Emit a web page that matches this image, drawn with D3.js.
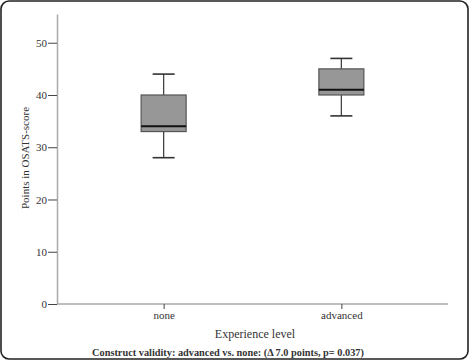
<!DOCTYPE html>
<html lang="en">
<head>
<meta charset="utf-8">
<title>OSATS score by experience level</title>
<script src="https://cdn.jsdelivr.net/npm/d3@7"></script>
<style>
  body { margin: 0; background: #fff; }
  text { font-family: "Liberation Serif", "Times New Roman", serif; fill: #333; }
</style>
</head>
<body>
<script>
// values
const categories = ["none", "advanced"];
const whiskLow  = [28, 36];
const q1        = [33, 40];
const median    = [34, 41];
const q3        = [40, 45];
const whiskHigh = [44, 47];
const yTicks = [0, 10, 20, 30, 40, 50];

const w = 469, h = 360;
const plotLeft = 57, plotRight = 448, plotTop = 14, plotBottom = 304;
const serif = "Liberation Serif, Times New Roman, serif";

const svg = d3.select("body").append("svg")
  .attr("width", w)
  .attr("height", h);

// frame round the figure
svg.append("rect")
  .attr("x", 1).attr("y", 1)
  .attr("width", w - 2).attr("height", h - 2)
  .attr("rx", 8)
  .attr("fill", "none")
  .attr("stroke", "#222")
  .attr("stroke-width", 1.6);

const y = d3.scaleLinear().domain([0, 55.5]).range([plotBottom, plotTop]);
const x = d3.scalePoint().domain(categories).range([plotLeft, plotRight]).padding(0.6);

// y axis
const yAxis = svg.append("g")
  .attr("transform", "translate(" + plotLeft + ",0)")
  .call(d3.axisLeft(y).tickValues(yTicks).tickSize(9).tickPadding(1).tickSizeOuter(0))
  .attr("font-family", serif)
  .attr("font-size", 11);
yAxis.select(".domain").attr("stroke", "#aaa").attr("stroke-width", 1.5);
yAxis.selectAll(".tick line").attr("stroke", "#444");
yAxis.selectAll(".tick text").attr("fill", "#333");

// x axis
const xAxis = svg.append("g")
  .attr("transform", "translate(0," + plotBottom + ")")
  .call(d3.axisBottom(x).tickSize(5).tickPadding(2).tickSizeOuter(0))
  .attr("font-family", serif)
  .attr("font-size", 11);
xAxis.select(".domain").attr("stroke", "#aaa").attr("stroke-width", 1.5)
  .attr("d", "M" + plotLeft + ",0H" + plotRight);
xAxis.selectAll(".tick line").attr("stroke", "#444");
xAxis.selectAll(".tick text").attr("fill", "#333");

// boxes
const boxW = 45, capW = 22;
const data = categories.map(function(c, i) {
  return { cat: c, lo: whiskLow[i], q1: q1[i], med: median[i], q3: q3[i], hi: whiskHigh[i] };
});

const g = svg.selectAll("g.box")
  .data(data)
  .enter()
  .append("g")
  .attr("class", "box");

g.append("line")
  .attr("x1", d => x(d.cat)).attr("x2", d => x(d.cat))
  .attr("y1", d => y(d.hi)).attr("y2", d => y(d.lo))
  .attr("stroke", "#444").attr("stroke-width", 1.3);

g.append("rect")
  .attr("x", d => x(d.cat) - boxW / 2)
  .attr("y", d => y(d.q3))
  .attr("width", boxW)
  .attr("height", d => y(d.q1) - y(d.q3))
  .attr("fill", "#979797")
  .attr("stroke", "#555")
  .attr("stroke-width", 1.2);

g.append("line")
  .attr("x1", d => x(d.cat) - boxW / 2).attr("x2", d => x(d.cat) + boxW / 2)
  .attr("y1", d => y(d.med)).attr("y2", d => y(d.med))
  .attr("stroke", "#111").attr("stroke-width", 2);

["hi", "lo"].forEach(function(k) {
  g.append("line")
    .attr("x1", d => x(d.cat) - capW / 2).attr("x2", d => x(d.cat) + capW / 2)
    .attr("y1", d => y(d[k])).attr("y2", d => y(d[k]))
    .attr("stroke", "#333").attr("stroke-width", 1.6);
});

// labels
svg.append("text")
  .attr("transform", "translate(29," + 158 + ") rotate(-90)")
  .attr("text-anchor", "middle")
  .style("font-size", "11px")
  .text("Points in OSATS-score");

svg.append("text")
  .attr("x", 255).attr("y", 338)
  .attr("text-anchor", "middle")
  .style("font-size", "12px")
  .text("Experience level");

svg.append("text")
  .attr("x", 228).attr("y", 356)
  .attr("text-anchor", "middle")
  .style("font-size", "10.3px")
  .style("font-weight", "bold")
  .text("Construct validity: advanced vs. none: (\u0394 7.0 points, p= 0.037)");
</script>
</body>
</html>
